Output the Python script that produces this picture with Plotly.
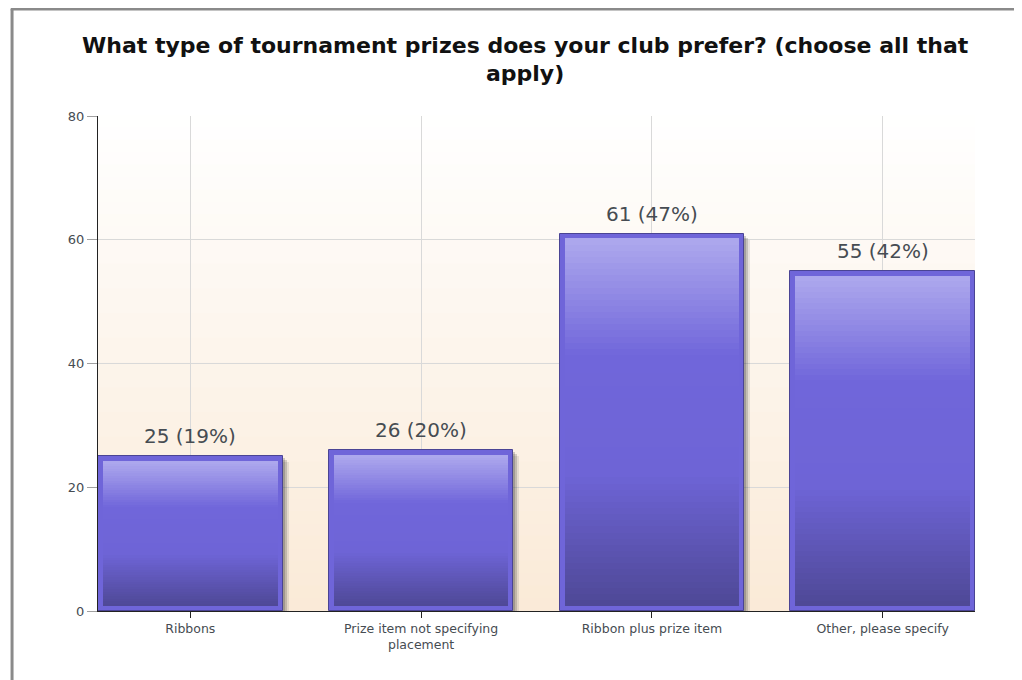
"""Survey bar chart: tournament prize preference."""
import plotly.graph_objects as go

categories = ["Ribbons", "Prize item not specifying<br>placement",
              "Ribbon plus prize item", "Other, please specify"]
counts = [25, 26, 61, 55]
percents = [19, 20, 47, 42]
labels = [f"{c} ({p}%)" for c, p in zip(counts, percents)]

_FONT = "DejaVu Sans, Verdana, sans-serif"
_TEXT = "#464c52"
_GRID = "#d9d9d9"

BAR_W = 0.8
INSET_Y = 0.8      # frame thickness in y units (~5px)
INSET_X = 0.022    # frame thickness in category units (~5px)
N_SLICES = 60

# vertical gradient stops inside each bar (0 = top, 1 = bottom)
_STOPS = [(0.0, (174, 169, 238)), (0.32, (112, 102, 218)),
          (0.64, (110, 100, 214)), (1.0, (78, 72, 150))]


def _grad(t):
    for (t0, c0), (t1, c1) in zip(_STOPS, _STOPS[1:]):
        if t <= t1:
            f = (t - t0) / (t1 - t0)
            return "rgb(%d,%d,%d)" % tuple(round(a + (b - a) * f) for a, b in zip(c0, c1))
    return "rgb(%d,%d,%d)" % _STOPS[-1][1]


def _bg(t):
    top, bot = (255, 255, 255), (250, 234, 215)
    return "rgb(%d,%d,%d)" % tuple(round(a + (b - a) * t) for a, b in zip(top, bot))


fig = go.Figure()

# soft drop shadow (right / bottom)
for dx, dy, a in [(6, 6, 0.10), (4, 4, 0.18), (2, 2, 0.22)]:
    fig.add_trace(go.Bar(
        x=categories, y=counts, base=-dy / 6.19,
        width=BAR_W, offset=-BAR_W / 2 + dx / 231,
        marker={"color": f"rgba(40,40,40,{a})", "line": {"width": 0}},
        hoverinfo="skip", showlegend=False,
    ))

# outer frame
fig.add_trace(go.Bar(
    x=categories, y=counts, width=BAR_W, offset=-BAR_W / 2,
    marker={"color": "#6f65d9", "line": {"color": "#4a4494", "width": 1}},
    showlegend=False,
))

# gradient fill, sliced
for k in range(N_SLICES):
    t = 1 - (k + 0.5) / N_SLICES
    fig.add_trace(go.Bar(
        x=categories,
        y=[(v - 2 * INSET_Y) / N_SLICES * 1.02 for v in counts],
        base=[INSET_Y + (v - 2 * INSET_Y) * k / N_SLICES for v in counts],
        width=BAR_W - 2 * INSET_X, offset=-BAR_W / 2 + INSET_X,
        marker={"color": _grad(t), "line": {"width": 0}},
        hoverinfo="skip", showlegend=False,
    ))

# value labels above bars
for cat, v, lab in zip(categories, counts, labels):
    fig.add_annotation(x=cat, y=v, text=lab, showarrow=False,
                       yanchor="bottom", yshift=6,
                       font={"size": 20, "color": _TEXT, "family": _FONT})

# plot background gradient
shapes = []
N_BG = 40
for i in range(N_BG):
    shapes.append(dict(
        type="rect", xref="paper", yref="paper", layer="below",
        x0=0, x1=1, y0=1 - (i + 1) / N_BG, y1=1 - i / N_BG + 0.002,
        fillcolor=_bg((i + 0.5) / N_BG), line={"width": 0},
    ))
# grey outer frame (left and top)
shapes.append(dict(type="line", xref="paper", yref="paper",
                   x0=-0.098, x1=-0.098, y0=-0.2, y1=1.216,
                   line={"color": "#8a8a8a", "width": 3}))
shapes.append(dict(type="line", xref="paper", yref="paper",
                   x0=-0.0995, x1=1.1, y0=1.216, y1=1.216,
                   line={"color": "#8a8a8a", "width": 3}))

fig.update_layout(
    width=1022, height=680,
    barmode="overlay", bargap=0,
    paper_bgcolor="white", plot_bgcolor="white",
    font={"family": _FONT, "color": _TEXT},
    margin={"l": 90, "r": 55, "t": 108, "b": 77},
    shapes=shapes,
    title={
        "text": "<b>What type of tournament prizes does your club prefer? (choose all that<br>apply)</b>",
        "font": {"size": 22, "color": "#111111", "family": _FONT},
        "x": 0.506, "xanchor": "center", "xref": "container",
        "y": 0.934, "yanchor": "top", "yref": "container",
    },
    xaxis={
        "range": [-0.4, 3.4], "showgrid": True, "gridcolor": _GRID,
        "showline": True, "linecolor": "#222222", "linewidth": 1,
        "ticks": "outside", "ticklen": 6, "tickcolor": "#222222",
        "tickfont": {"size": 12.5, "color": _TEXT}, "fixedrange": True,
    },
    yaxis={
        "range": [0, 80], "dtick": 20, "showgrid": True, "gridcolor": _GRID,
        "showline": True, "linecolor": "#222222", "linewidth": 1,
        "ticks": "outside", "ticklen": 10, "tickcolor": "#a0a0a0",
        "tickfont": {"size": 13, "color": _TEXT}, "zeroline": False,
        "fixedrange": True,
    },
)

fig.write_html("out.html")
